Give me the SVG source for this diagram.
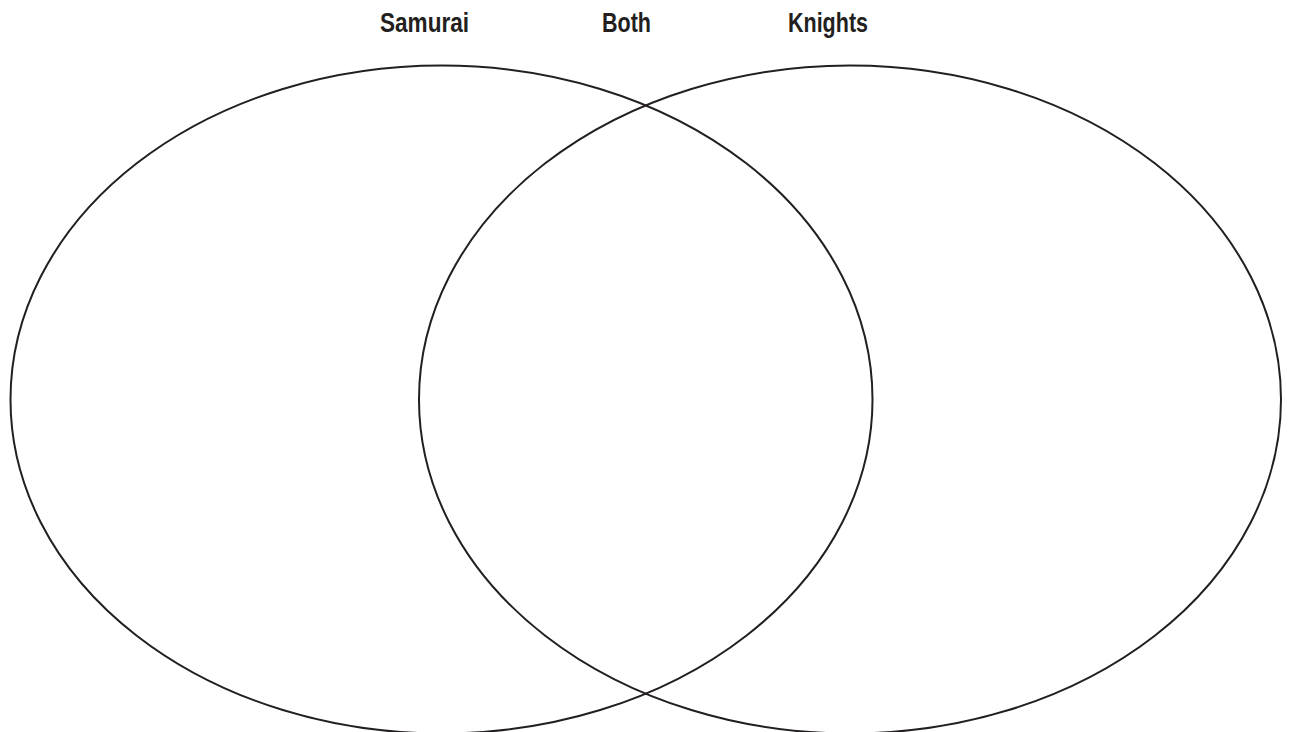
<svg xmlns="http://www.w3.org/2000/svg" width="1289" height="732" viewBox="0 0 1289 732">
<style>
.lbl{font-family:"Liberation Sans",Arial,sans-serif;font-weight:bold;font-size:28px;fill:#231f20;text-anchor:middle}
.set{fill:none;stroke:#231f20;stroke-width:2}
</style>
<rect width="1289" height="732" fill="#fff"/>
<g id="samurai"><ellipse class="set" cx="441.5" cy="399.5" rx="431" ry="334"/></g>
<g id="knights"><ellipse class="set" cx="850" cy="399.5" rx="431" ry="334"/></g>
<g id="labels">
<text class="lbl" x="424.5" y="31.5" textLength="89" lengthAdjust="spacingAndGlyphs">Samurai</text>
<text class="lbl" x="626.5" y="31.5" textLength="49" lengthAdjust="spacingAndGlyphs">Both</text>
<text class="lbl" x="828" y="31.5" textLength="80" lengthAdjust="spacingAndGlyphs">Knights</text>
</g>
</svg>
